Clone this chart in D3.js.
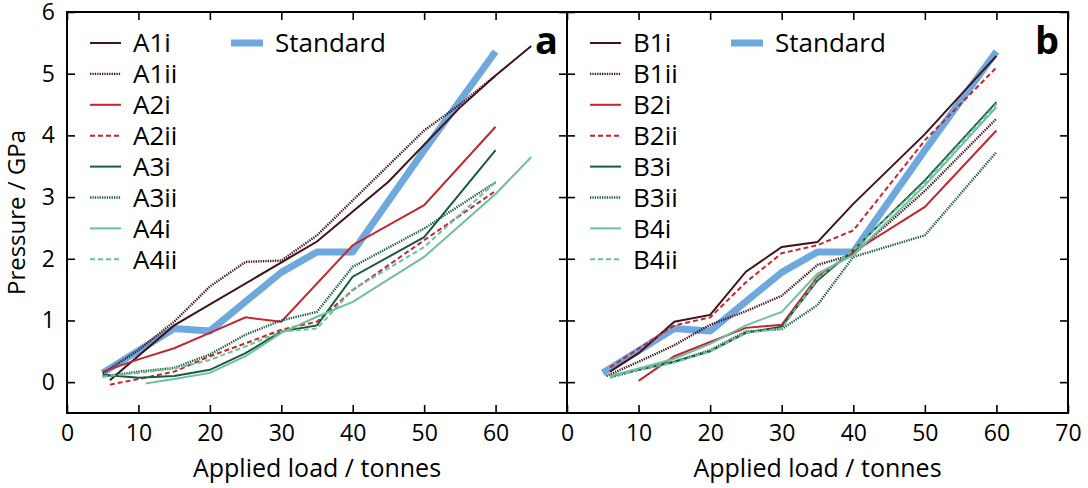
<!DOCTYPE html>
<html>
<head>
<meta charset="utf-8">
<script src="https://cdn.jsdelivr.net/npm/d3@7"></script>
<style>
  body { margin: 0; background: #fff; }
  text { font-family: "Open Sans", sans-serif; fill: #000; }
</style>
</head>
<body>
<script>
var width = 1088, height = 488;

// loads (tonnes) and pressures (GPa)
var standard = [[5, 0.15], [15, 0.87], [20, 0.83], [30, 1.78], [35, 2.11], [40, 2.11], [50, 3.76], [60, 5.36]];

var A1i  = [[6, 0.03], [15, 0.92], [35, 2.28], [45, 3.25], [55, 4.45], [60, 4.97], [65, 5.45]];
var A1ii = [[5, 0.14], [10, 0.52], [15, 0.98], [20, 1.55], [25, 1.95], [30, 1.97], [35, 2.38], [50, 4.08], [55, 4.5], [60, 4.97]];
var A2i  = [[5, 0.17], [10, 0.37], [15, 0.55], [20, 0.8], [25, 1.05], [30, 0.98], [40, 2.22], [50, 2.87], [60, 4.14]];
var A2ii = [[6, -0.04], [10, 0.05], [15, 0.17], [20, 0.42], [25, 0.63], [30, 0.85], [35, 0.98], [40, 1.49], [50, 2.3], [60, 3.1]];
var A3i  = [[5, 0.12], [10, 0.07], [15, 0.1], [20, 0.2], [25, 0.47], [30, 0.82], [35, 0.92], [40, 1.71], [50, 2.35], [60, 3.76]];
var A3ii = [[5, 0.09], [10, 0.17], [15, 0.23], [20, 0.45], [25, 0.77], [30, 1.0], [35, 1.14], [40, 1.87], [50, 2.49], [60, 3.24]];
var A4i  = [[11, -0.02], [15, 0.05], [20, 0.15], [25, 0.42], [30, 0.8], [35, 1.06], [40, 1.3], [50, 2.03], [60, 3.05], [65, 3.65]];
var A4ii = [[5, 0.09], [10, 0.15], [15, 0.22], [20, 0.36], [25, 0.58], [30, 0.82], [35, 0.87], [40, 1.5], [50, 2.19], [60, 3.24]];

var B1i  = [[6, 0.17], [10, 0.47], [15, 0.98], [20, 1.09], [25, 1.79], [30, 2.19], [35, 2.27], [40, 2.89], [50, 4.02], [60, 5.29]];
var B1ii = [[5.5, 0.1], [10, 0.33], [15, 0.6], [20, 0.93], [25, 1.15], [30, 1.4], [35, 1.9], [40, 2.07], [50, 3.1], [60, 4.27]];
var B2i  = [[10, 0.02], [15, 0.42], [20, 0.65], [25, 0.88], [30, 0.93], [35, 1.71], [40, 2.11], [50, 2.84], [60, 4.08]];
var B2ii = [[6, 0.24], [15, 0.92], [20, 1.05], [25, 1.62], [30, 2.09], [35, 2.22], [40, 2.46], [50, 3.92], [60, 5.1]];
var B3i  = [[6, 0.1], [10, 0.2], [15, 0.33], [20, 0.5], [25, 0.8], [30, 0.9], [35, 1.65], [40, 2.14], [50, 3.27], [60, 4.54]];
var B3ii = [[6, 0.08], [10, 0.2], [15, 0.33], [20, 0.52], [25, 0.82], [30, 0.86], [35, 1.25], [40, 2.03], [50, 2.38], [60, 3.73]];
var B4i  = [[6, 0.1], [10, 0.22], [15, 0.38], [20, 0.62], [25, 0.92], [30, 1.14], [35, 1.76], [40, 2.06], [50, 3.19], [60, 4.46]];
var B4ii = [[6, 0.07], [10, 0.2], [15, 0.32], [20, 0.5], [25, 0.8], [30, 0.87], [35, 1.68], [40, 2.14], [50, 3.24], [60, 4.51]];

var namesA = ["A1i", "A1ii", "A2i", "A2ii", "A3i", "A3ii", "A4i", "A4ii"];
var namesB = ["B1i", "B1ii", "B2i", "B2ii", "B3i", "B3ii", "B4i", "B4ii"];
var seriesA = [A1i, A1ii, A2i, A2ii, A3i, A3ii, A4i, A4ii];
var seriesB = [B1i, B1ii, B2i, B2ii, B3i, B3ii, B4i, B4ii];

var xTicksA = [0, 10, 20, 30, 40, 50, 60];
var xTicksB = [0, 10, 20, 30, 40, 50, 60, 70];
var yTicks = [0, 1, 2, 3, 4, 5, 6];

var colors = ["#421219", "#421219", "#c1272d", "#c1272d", "#1a5a40", "#1a5a40", "#6cc19d", "#6cc19d"];
var dashes = [null, "1.3,1.1", null, "5,3", null, "1.3,1.1", null, "5,3"];

var plotTop = 12, plotBottom = 413;

var svg = d3.select("body").append("svg")
    .attr("width", width)
    .attr("height", height);

var y = d3.scaleLinear().domain([-0.5, 6]).range([plotBottom, plotTop]);

var line = function(x) {
    return d3.line().x(function(d) { return x(d[0]); }).y(function(d) { return y(d[1]); });
};

function panel(left, right, names, series, xTicks, letter, showY) {
    var x = d3.scaleLinear().domain([0, 70]).range([left, right]);
    var g = svg.append("g");

    // data
    g.append("path")
        .attr("d", line(x)(standard))
        .style("fill", "none")
        .style("stroke", "#6fa8dc")
        .style("stroke-width", 7)
        .style("stroke-linejoin", "round");

    series.forEach(function(s, i) {
        g.append("path")
            .attr("d", line(x)(s))
            .style("fill", "none")
            .style("stroke", colors[i])
            .style("stroke-width", dashes[i] == "1.3,1.1" ? 2.4 : 2)
            .style("stroke-dasharray", dashes[i]);
    });

    // axes, ticks pointing inward
    g.append("g").attr("transform", "translate(0," + plotBottom + ")")
        .call(d3.axisBottom(x).tickValues(xTicks).tickSizeInner(-8).tickSizeOuter(0).tickPadding(12).tickFormat(d3.format("d")));
    g.append("g").attr("transform", "translate(0," + plotTop + ")")
        .call(d3.axisTop(x).tickValues(xTicks).tickSizeInner(-8).tickSizeOuter(0).tickFormat(""));
    g.append("g").attr("transform", "translate(" + left + ",0)")
        .call(d3.axisLeft(y).tickValues(yTicks).tickSizeInner(-8).tickSizeOuter(0).tickPadding(12).tickFormat(showY ? d3.format("d") : ""));
    g.append("g").attr("transform", "translate(" + right + ",0)")
        .call(d3.axisRight(y).tickValues(yTicks).tickSizeInner(-8).tickSizeOuter(0).tickFormat(""));

    g.selectAll(".domain").remove();
    g.selectAll(".tick line").style("stroke", "#000").style("stroke-width", 1.6);
    g.selectAll(".tick text").style("font-size", "23px").style("font-family", "Open Sans, sans-serif").attr("fill", "#000");

    g.append("rect")
        .attr("x", left).attr("y", plotTop)
        .attr("width", right - left).attr("height", plotBottom - plotTop)
        .style("fill", "none").style("stroke", "#000").style("stroke-width", 2);

    g.append("text")
        .attr("x", (left + right) / 2)
        .attr("y", 477)
        .attr("text-anchor", "middle")
        .style("font-size", "25px")
        .text("Applied load / tonnes");

    g.append("text")
        .attr("x", right - 9)
        .attr("y", 54)
        .attr("text-anchor", "end")
        .style("font-size", "38px")
        .style("font-weight", "bold")
        .text(letter);

    // legend
    var leg = g.append("g").attr("transform", "translate(" + left + ",0)");
    names.forEach(function(n, i) {
        var yy = 43 + i * 30.9;
        leg.append("line")
            .attr("x1", 23).attr("x2", 54).attr("y1", yy).attr("y2", yy)
            .style("stroke", colors[i])
            .style("stroke-width", dashes[i] == "1.3,1.1" ? 2.4 : 2)
            .style("stroke-dasharray", dashes[i]);
        leg.append("text")
            .attr("x", 66).attr("y", yy).attr("dy", "0.36em")
            .style("font-size", "26px")
            .text(n);
    });
    leg.append("line")
        .attr("x1", 164).attr("x2", 196).attr("y1", 43).attr("y2", 43)
        .style("stroke", "#6fa8dc").style("stroke-width", 7);
    leg.append("text")
        .attr("x", 208).attr("y", 43).attr("dy", "0.36em")
        .style("font-size", "26px")
        .text("Standard");
}

panel(67, 567, namesA, seriesA, xTicksA, "a", true);
panel(567, 1068, namesB, seriesB, xTicksB, "b", false);

svg.append("text")
    .attr("transform", "translate(25," + ((plotTop + plotBottom) / 2) + ") rotate(-90)")
    .attr("text-anchor", "middle")
    .style("font-size", "24px")
    .text("Pressure / GPa");
</script>
</body>
</html>
